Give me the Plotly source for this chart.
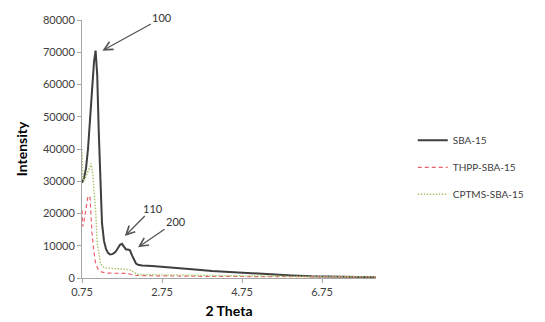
import plotly.graph_objects as go

# SBA-15
x_sba = [0.75, 0.80, 0.85, 0.90, 0.95, 1.00, 1.05, 1.09, 1.13, 1.17, 1.21, 1.25, 1.30, 1.35, 1.40,
         1.45, 1.50, 1.55, 1.60, 1.65, 1.70, 1.75, 1.80, 1.85, 1.90, 1.95, 2.00, 2.05, 2.10, 2.15,
         2.25, 2.50, 2.75, 3.00, 3.50, 4.00, 4.50, 5.00, 5.50, 6.00, 6.50, 7.00, 7.50, 8.10]
y_sba = [29500, 31000, 34000, 40000, 49000, 59000, 67000, 70500, 63000, 45000, 28000, 17000, 11500, 9000, 7800,
         7300, 7400, 7700, 8300, 9300, 10300, 10600, 9800, 8800, 8800, 8600, 7000, 5500, 4500, 4100,
         3900, 3700, 3500, 3200, 2700, 2200, 1800, 1400, 1100, 800, 550, 400, 300, 250]

# THPP-SBA-15
x_thpp = [0.75, 0.77, 0.80, 0.85, 0.90, 0.95, 1.00, 1.05, 1.09, 1.16, 1.25, 1.40, 1.60, 1.80, 1.90,
          2.00, 2.10, 2.50, 3.00, 4.00, 5.00, 6.00, 7.00, 8.10]
y_thpp = [21000, 16000, 17500, 22000, 25500, 25000, 14000, 8000, 4600, 2500, 1800, 1500, 1500, 1500, 1400,
          1000, 800, 700, 600, 500, 450, 400, 350, 300]

# CPTMS-SBA-15
x_cptms = [0.75, 0.77, 0.80, 0.85, 0.90, 0.95, 0.98, 1.02, 1.06, 1.09, 1.13, 1.17, 1.21, 1.27, 1.33,
           1.50, 1.70, 1.85, 1.95, 2.05, 2.15, 2.50, 3.00, 4.00, 5.00, 6.00, 7.00, 8.10]
y_cptms = [40000, 31000, 30000, 31500, 33500, 35000, 35500, 32000, 26000, 21000, 11000, 7000, 4600, 3600, 3100,
           3000, 2900, 2700, 2500, 1800, 1100, 1000, 900, 700, 600, 500, 400, 350]

x_ticks = [0.75, 2.75, 4.75, 6.75]
y_ticks = [0, 10000, 20000, 30000, 40000, 50000, 60000, 70000, 80000]

# annotation targets (peak labels)
peak_labels = ["100", "110", "200"]
peak_x = [1.26, 1.82, 2.15]
peak_y = [70500, 13000, 9500]
label_dx = [60, 28, 38]
label_dy = [-33, -28, -26]

font_family = "Lato, 'Open Sans', sans-serif"

fig = go.Figure()
fig.add_trace(go.Scatter(x=x_sba, y=y_sba, mode="lines", name="SBA-15", legendgroup="a",
                         line=dict(color="#3f3f3f", width=2)))
fig.add_trace(go.Scatter(x=x_thpp, y=y_thpp, mode="lines", name="THPP-SBA-15", legendgroup="b",
                         line=dict(color="#e8636b", width=1.2, dash="4px,3px")))
fig.add_trace(go.Scatter(x=x_cptms, y=y_cptms, mode="lines", name="CPTMS-SBA-15", legendgroup="c",
                         line=dict(color="#a8c66c", width=1.4, dash="1.5px,1.5px")))

for t, px, py, dx, dy in zip(peak_labels, peak_x, peak_y, label_dx, label_dy):
    fig.add_annotation(x=px, y=py, xref="x", yref="y", text=t, showarrow=True,
                       ax=dx, ay=dy, arrowhead=5, arrowsize=1.3, arrowwidth=1.3,
                       arrowcolor="#555555", font=dict(size=11, color="#333333", family=font_family),
                       standoff=0)

fig.update_layout(
    width=545, height=322,
    margin=dict(l=82, r=169, t=20, b=44),
    plot_bgcolor="white", paper_bgcolor="white",
    font=dict(family=font_family, color="#333333"),
    showlegend=True,
    legend=dict(x=1.125, y=0.59, xanchor="left", yanchor="top", font=dict(size=10, color="#404040"),
                tracegroupgap=8, itemwidth=30, bgcolor="rgba(0,0,0,0)"),
    xaxis=dict(range=[0.75, 8.1], tickvals=x_ticks, ticktext=[str(v) for v in x_ticks],
               showgrid=False, zeroline=False, showline=True, linecolor="#a6a6a6", linewidth=1,
               ticks="outside", ticklen=4, tickcolor="#a6a6a6", automargin=False,
               tickfont=dict(size=11, color="#404040"),
               title=dict(text="<b>2 Theta</b>", font=dict(size=14, color="#000000"), standoff=8)),
    yaxis=dict(range=[0, 80000], tickvals=y_ticks, ticktext=[str(v) for v in y_ticks],
               showgrid=False, zeroline=False, showline=True, linecolor="#a6a6a6", linewidth=1,
               ticks="outside", ticklen=4, tickcolor="#a6a6a6", automargin=False,
               tickfont=dict(size=11, color="#404040"),
               title=dict(text="<b>Intensity</b>", font=dict(size=14, color="#000000"), standoff=11)),
)

fig.write_html("out.html")
